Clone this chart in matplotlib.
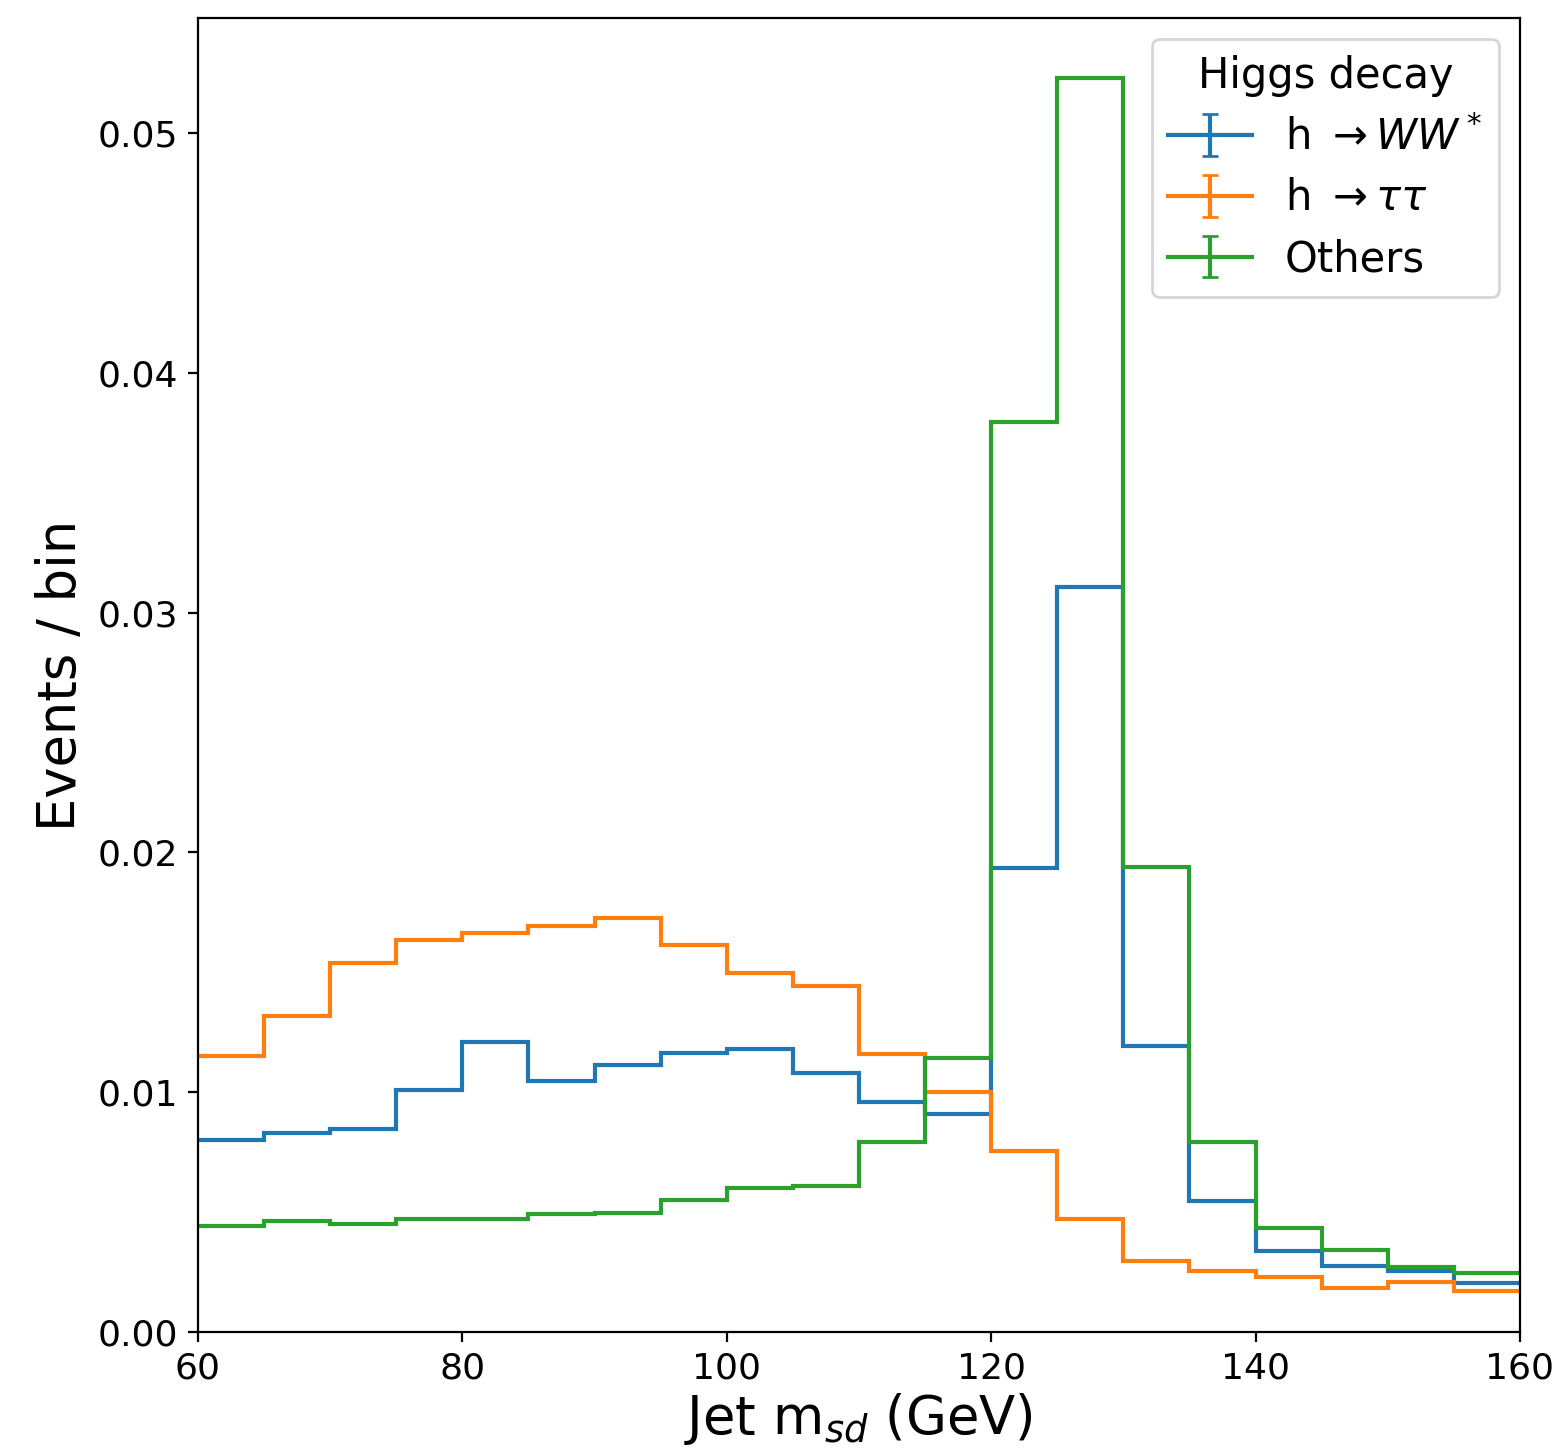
import numpy as np
import matplotlib
matplotlib.use("Agg")
import matplotlib.pyplot as plt

# bin edges for jet soft-drop mass
edges = np.arange(60, 165, 5)

hww = [0.0080, 0.0083, 0.00847, 0.0101, 0.0121, 0.01047, 0.01113, 0.01163, 0.0118, 0.0108,
       0.0096, 0.0091, 0.01935, 0.03107, 0.01193, 0.00546, 0.00338, 0.00275, 0.00254, 0.00204]
htautau = [0.01151, 0.01318, 0.01539, 0.01635, 0.01664, 0.01693, 0.01726, 0.01614, 0.01497, 0.01443,
           0.01159, 0.0100, 0.00755, 0.00471, 0.00296, 0.00254, 0.00229, 0.00183, 0.00208, 0.00171]
others = [0.00442, 0.00463, 0.0045, 0.00471, 0.00471, 0.00492, 0.00496, 0.0055, 0.006, 0.00609,
          0.00792, 0.01143, 0.03795, 0.0523, 0.01939, 0.00792, 0.00434, 0.00342, 0.00271, 0.00246]

labels = [r"h $\rightarrow WW^*\,$", r"h $\rightarrow\tau\tau$", "Others"]
colors = ["#1f77b4", "#ff7f0e", "#2ca02c"]

fig = plt.figure(figsize=(7.79, 7.25), dpi=200)
ax = fig.add_axes([0.127, 0.0814, 0.8486, 0.9062])

for vals, lab, c in zip([hww, htautau, others], labels, colors):
    ax.stairs(vals, edges, color=c, linewidth=1.5, baseline=None)
    # legend handle in errorbar style
    ax.errorbar([np.nan], [np.nan], yerr=[np.nan], color=c,
                linewidth=1.5, capsize=3, label=lab)

ax.set_xlim(60, 160)
ax.set_ylim(0, 0.0548)
ax.tick_params(labelsize=13)
ax.set_xlabel(r"Jet m$_{sd}$ (GeV)", fontsize=19, labelpad=2)
ax.set_ylabel("Events / bin", fontsize=19)
ax.legend(title="Higgs decay", fontsize=15, title_fontsize=15, loc="upper right",
          labelspacing=0.45)

fig.savefig("out.png", dpi=200)
